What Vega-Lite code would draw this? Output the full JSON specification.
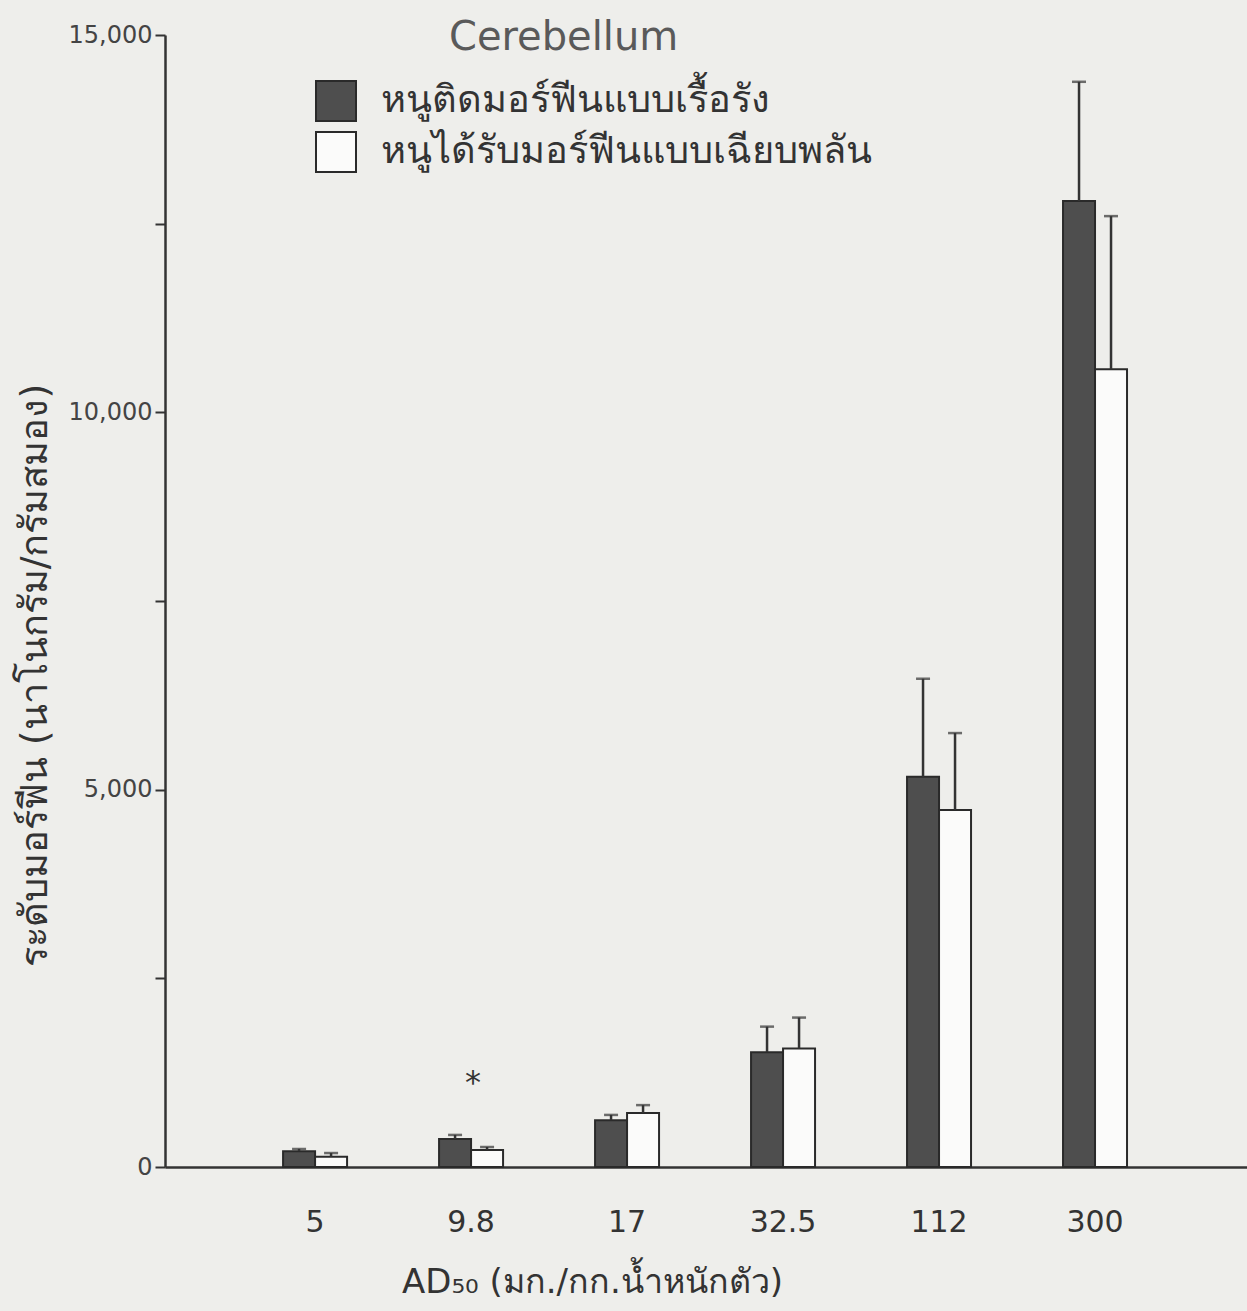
{
  "$schema": "https://vega.github.io/schema/vega-lite/v6.json",
  "width": 1082,
  "height": 1132,
  "autosize": {"type": "none"},
  "padding": {"left": 165, "top": 35, "right": 0, "bottom": 144},
  "background": "#eeeeeb",
  "config": {
    "view": {"stroke": null},
    "font": "DejaVu Sans"
  },
  "title": {
    "text": "Cerebellum",
    "fontSize": 40,
    "fontWeight": "normal",
    "color": "#5a5a5a",
    "anchor": "start",
    "dx": 433,
    "dy": 35,
    "offset": 0
  },
  "data": {
    "values": [
      {"dose": "5", "group": "หนูติดมอร์ฟีนแบบเรื้อรัง", "mean": 210, "hi": 240},
      {"dose": "5", "group": "หนูได้รับมอร์ฟีนแบบเฉียบพลัน", "mean": 135, "hi": 185},
      {"dose": "9.8", "group": "หนูติดมอร์ฟีนแบบเรื้อรัง", "mean": 370, "hi": 425, "sig": "*"},
      {"dose": "9.8", "group": "หนูได้รับมอร์ฟีนแบบเฉียบพลัน", "mean": 225, "hi": 265},
      {"dose": "17", "group": "หนูติดมอร์ฟีนแบบเรื้อรัง", "mean": 620, "hi": 690},
      {"dose": "17", "group": "หนูได้รับมอร์ฟีนแบบเฉียบพลัน", "mean": 715, "hi": 820},
      {"dose": "32.5", "group": "หนูติดมอร์ฟีนแบบเรื้อรัง", "mean": 1520, "hi": 1860},
      {"dose": "32.5", "group": "หนูได้รับมอร์ฟีนแบบเฉียบพลัน", "mean": 1570, "hi": 1980},
      {"dose": "112", "group": "หนูติดมอร์ฟีนแบบเรื้อรัง", "mean": 5170, "hi": 6470},
      {"dose": "112", "group": "หนูได้รับมอร์ฟีนแบบเฉียบพลัน", "mean": 4730, "hi": 5750},
      {"dose": "300", "group": "หนูติดมอร์ฟีนแบบเรื้อรัง", "mean": 12800, "hi": 14380},
      {"dose": "300", "group": "หนูได้รับมอร์ฟีนแบบเฉียบพลัน", "mean": 10570, "hi": 12600}
    ]
  },
  "encoding": {
    "x": {
      "field": "dose",
      "type": "nominal",
      "sort": null,
      "scale": {"type": "band", "paddingInner": 0.5897, "paddingOuter": 0.763, "align": 0.496},
      "axis": {
        "title": "AD₅₀ (มก./กก.น้ำหนักตัว)",
        "titleFontSize": 34,
        "titleFontWeight": "normal",
        "titleColor": "#333333",
        "titleX": 427,
        "titleY": 115,
        "titleBaseline": "middle",
        "labelAngle": 0,
        "labelFontSize": 30,
        "labelColor": "#333333",
        "labelPadding": 40,
        "ticks": false,
        "domainColor": "#333333",
        "domainWidth": 2.5,
        "grid": false
      }
    },
    "y": {
      "type": "quantitative",
      "scale": {"domain": [0, 15000], "nice": false, "zero": true},
      "axis": {
        "title": "ระดับมอร์ฟีน (นาโนกรัม/กรัมสมอง)",
        "titleFontSize": 38,
        "titleFontWeight": "normal",
        "titleColor": "#333333",
        "titleX": -130,
        "titleY": 640,
        "titleBaseline": "middle",
        "values": [0, 2500, 5000, 7500, 10000, 12500, 15000],
        "labelExpr": "datum.value % 5000 === 0 ? format(datum.value, ',') : ''",
        "labelFontSize": 24,
        "labelColor": "#444444",
        "labelPadding": 3,
        "tickSize": 10,
        "tickWidth": 2,
        "tickColor": "#333333",
        "domainColor": "#333333",
        "domainWidth": 2.5,
        "grid": false
      }
    }
  },
  "layer": [
    {
      "mark": {"type": "bar", "stroke": "#2a2a2a", "strokeWidth": 2},
      "encoding": {
        "y": {"field": "mean", "type": "quantitative"},
        "xOffset": {
          "field": "group",
          "type": "nominal",
          "sort": ["หนูติดมอร์ฟีนแบบเรื้อรัง", "หนูได้รับมอร์ฟีนแบบเฉียบพลัน"],
          "scale": {"paddingInner": 0, "paddingOuter": 0}
        },
        "color": {
          "field": "group",
          "type": "nominal",
          "sort": ["หนูติดมอร์ฟีนแบบเรื้อรัง", "หนูได้รับมอร์ฟีนแบบเฉียบพลัน"],
          "scale": {"domain": ["หนูติดมอร์ฟีนแบบเรื้อรัง", "หนูได้รับมอร์ฟีนแบบเฉียบพลัน"], "range": ["#4e4e4e", "#fbfbfa"]},
          "legend": {
            "title": null,
            "orient": "none",
            "legendX": 150,
            "legendY": 45,
            "symbolType": "square",
            "symbolSize": 1600,
            "symbolStrokeColor": "#2a2a2a",
            "symbolStrokeWidth": 2,
            "symbolOpacity": 1,
            "labelFontSize": 38,
            "labelColor": "#333333",
            "labelOffset": 24,
            "labelLimit": 700,
            "rowPadding": 3
          }
        }
      }
    },
    {
      "mark": {"type": "rule", "color": "#333333", "strokeWidth": 2.5},
      "encoding": {
        "y": {"field": "mean", "type": "quantitative"},
        "y2": {"field": "hi"},
        "xOffset": {"field": "group", "type": "nominal", "sort": ["หนูติดมอร์ฟีนแบบเรื้อรัง", "หนูได้รับมอร์ฟีนแบบเฉียบพลัน"]}
      }
    },
    {
      "mark": {"type": "tick", "color": "#333333", "thickness": 2.5, "size": 14},
      "encoding": {
        "y": {"field": "hi", "type": "quantitative"},
        "xOffset": {"field": "group", "type": "nominal", "sort": ["หนูติดมอร์ฟีนแบบเรื้อรัง", "หนูได้รับมอร์ฟีนแบบเฉียบพลัน"]}
      }
    },
    {
      "transform": [{"filter": "datum.sig"}],
      "mark": {"type": "text", "fontSize": 32, "color": "#333333", "dy": -52, "dx": 2},
      "encoding": {
        "y": {"field": "hi", "type": "quantitative"},
        "text": {"field": "sig"}
      }
    }
  ]
}
